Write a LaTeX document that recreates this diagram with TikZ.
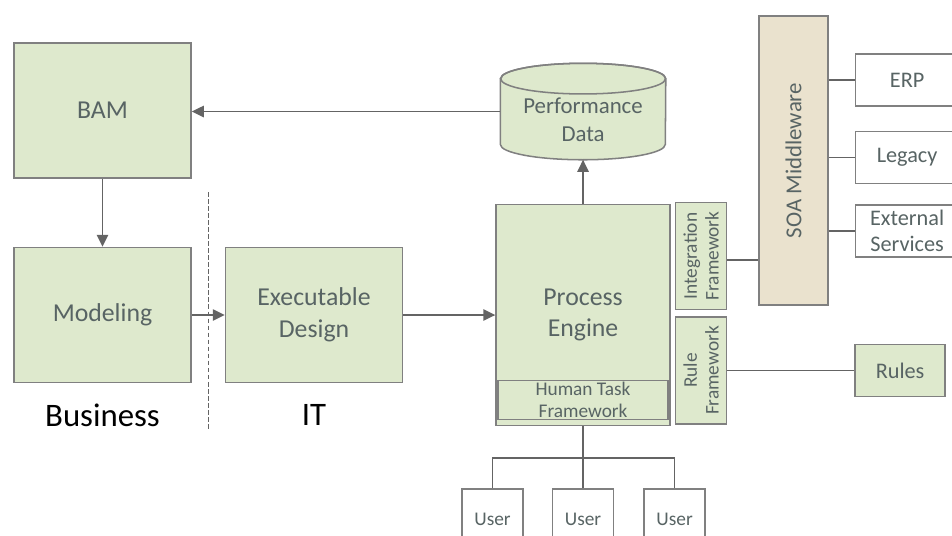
\documentclass[tikz,border=0pt]{standalone}
\usepackage{fontspec}
\setmainfont{Carlito}
\usetikzlibrary{shapes,arrows.meta,positioning,calc}

\definecolor{boxfill}{RGB}{222,233,205}
\definecolor{soafill}{RGB}{234,226,206}
\definecolor{boxline}{RGB}{128,128,128}
\definecolor{boxtext}{RGB}{88,100,100}
\definecolor{wireline}{RGB}{100,100,100}

\begin{document}
\begin{tikzpicture}[
  box/.style={draw=boxline,fill=boxfill,text=boxtext,line width=1.3pt,align=center,
    inner sep=2pt,font=\fontsize{22}{27}\selectfont},
  bigbox/.style={box,minimum width=5.31cm,minimum height=4.05cm},
  sidebox/.style={box,minimum width=1.53cm,minimum height=3.21cm},
  extbox/.style={box,fill=white,minimum width=3.09cm,minimum height=1.56cm,
    font=\fontsize{19}{22}\selectfont},
  userbox/.style={box,fill=white,minimum width=1.83cm,minimum height=1.8cm,
    font=\fontsize{16.5}{20}\selectfont},
  upright/.style={rotate=90,text=boxtext,align=center,font=\fontsize{16.5}{18.5}\selectfont},
  wire/.style={draw=wireline,line width=1.4pt},
  flow/.style={wire,-{Triangle[length=3.6mm,width=3.4mm]}},
  side/.style={font=\fontsize{28}{32}\selectfont}
]
\path[use as bounding box,clip] (0,0) rectangle (28.56,-16.05);

% Business side
\node[bigbox] (bam) at (3.075,-3.315) {BAM};
\node[bigbox,below=2.04cm of bam] (model) {Modeling};
\node[side] (business) at ([yshift=-0.96cm]model.south) {Business};

% IT side
\node[bigbox,right=0.99cm of model] (exec) {Executable\\Design};
\node[side] (it) at ([yshift=-0.96cm]exec.south) {IT};

\node[box,minimum width=5.22cm,minimum height=6.63cm,right=2.76cm of exec] (engine) {Process\\Engine};
\node[box,minimum width=5.1cm,minimum height=1.17cm,inner sep=0pt,anchor=south,
  font=\fontsize{16.5}{19}\selectfont] (human) at ([yshift=0.18cm]engine.south) {Human Task\\Framework};

% data store: empty frame, cylinder drawn round it, text on top
\node[minimum width=4.95cm,minimum height=2.88cm,inner sep=0pt,above=1.32cm of engine] (perf) {};
\draw[draw=boxline,fill=boxfill,line width=1.3pt]
  ([yshift=-0.46cm]perf.north west) -- ([yshift=0.46cm]perf.south west)
  arc[start angle=180,end angle=360,x radius=2.475cm,y radius=0.46cm]
  -- ([yshift=-0.46cm]perf.north east)
  arc[start angle=0,end angle=180,x radius=2.475cm,y radius=0.46cm] -- cycle;
\draw[draw=boxline,line width=1.3pt] ([yshift=-0.46cm]perf.north) ellipse[x radius=2.475cm,y radius=0.46cm];
\node[text=boxtext,align=center,font=\fontsize{19.5}{24}\selectfont] (perftext)
  at ([yshift=-0.24cm]perf.center) {Performance\\Data};

% frameworks and middleware
\node[sidebox,anchor=north west,label={[upright]center:Integration\\Framework}] (intfw)
  at ([xshift=0.12cm,yshift=0.06cm]engine.north east) {};
\node[sidebox,below=0.18cm of intfw,label={[upright]center:Rule\\Framework}] (rulefw) {};
\node[box,fill=soafill,minimum width=2.07cm,minimum height=8.67cm,anchor=south west,
  label={[upright,font=\fontsize{19.5}{22}\selectfont]center:SOA Middleware}] (soa)
  at ([xshift=0.93cm,yshift=0.135cm]intfw.south east) {};
\node[extbox,anchor=north west] (erp) at ([xshift=0.78cm,yshift=-1.14cm]soa.north east) {ERP};
\node[extbox,below=0.72cm of erp] (legacy) {Legacy};
\node[extbox,below=0.6cm of legacy] (extsvc) {External\\Services};
\node[box,minimum width=2.7cm,minimum height=1.56cm,font=\fontsize{19}{22}\selectfont,
  right=3.81cm of rulefw] (rules) {Rules};

% users
\coordinate[below=0.96cm of engine] (hub);
\node[userbox,below=1.86cm of engine] (user2) {User};
\node[userbox,left=0.84cm of user2] (user1) {User};
\node[userbox,right=0.87cm of user2] (user3) {User};

\coordinate (split) at ($(model.east)!0.5!(exec.west)$);
\draw[wire,line width=0.9pt,dash pattern=on 4pt off 2pt] ([yshift=3.69cm]split) -- ([yshift=-3.45cm]split);

\draw[flow] (perf.west) -- (perf.west -| bam.east);
\draw[flow] (bam) -- (model);
\draw[flow] (model) -- (exec);
\draw[flow] (exec) -- (engine);
\draw[flow] (engine) -- (perf);

\draw[wire] ([yshift=-0.12cm]intfw.east) -- ([yshift=-0.12cm]intfw.east -| soa.west);
\draw[wire] (soa.east |- erp.west) -- (erp.west);
\draw[wire] (soa.east |- legacy.west) -- (legacy.west);
\draw[wire] (soa.east |- extsvc.west) -- (extsvc.west);
\draw[wire] (rulefw) -- (rules);

\draw[wire] (engine.south) -- (hub);
\draw[wire] (user1.north) |- (hub) -| (user3.north);
\draw[wire] (user2.north) -- (user2.north |- hub);
\end{tikzpicture}
\end{document}
